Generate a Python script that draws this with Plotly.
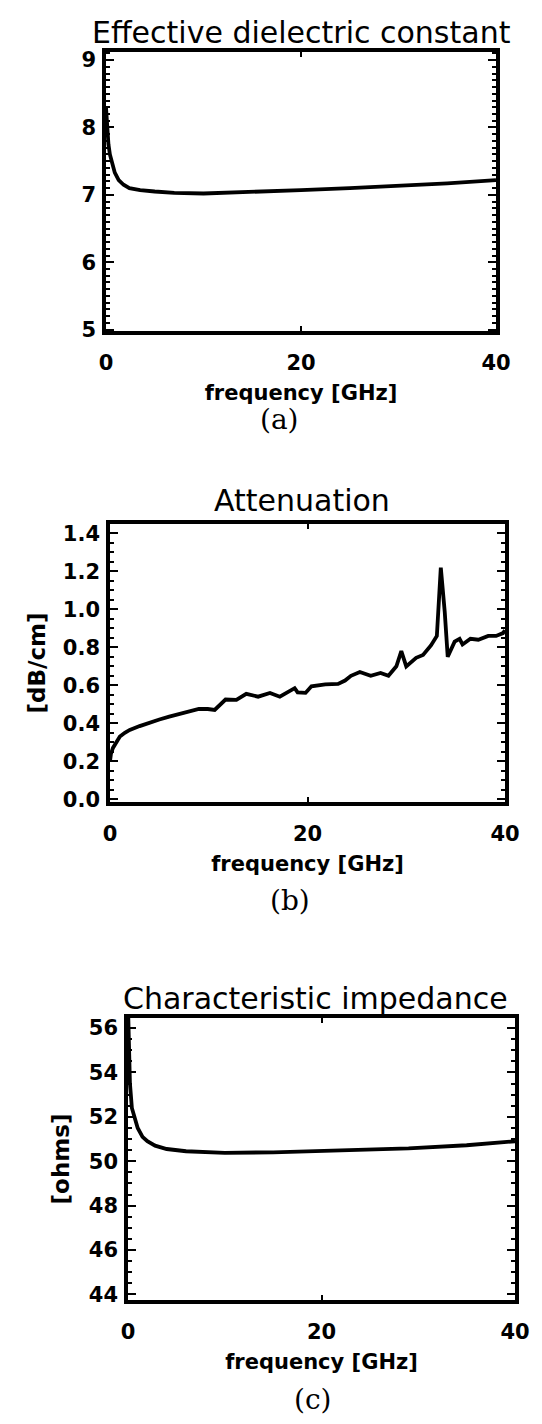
import plotly.graph_objects as go

# ---- data ----
freq_a = [0, 0.1, 0.25, 0.4, 0.6, 0.9, 1.3, 1.8, 2.4, 3.5, 5, 7, 10, 15, 20, 25, 30, 35, 40]
eps_eff = [8.3, 8.0, 7.75, 7.6, 7.48, 7.33, 7.22, 7.15, 7.1, 7.07, 7.05, 7.03, 7.02, 7.04,
           7.07, 7.1, 7.13, 7.17, 7.22]

freq_b = [0, 0.1, 0.3, 0.6, 1.0, 1.5, 2, 3, 4, 5, 6, 7, 7.9, 9, 9.9, 10.6, 11.7, 12.8,
          13.8, 15, 16.2, 17.2, 18.7, 19, 19.8, 20.4, 21.8, 23.1, 23.8, 24.4, 25.3, 26.4,
          27.4, 28.2, 29, 29.5, 30, 31, 31.7, 32.5, 33.1, 33.5, 33.9, 34.2, 34.9, 35.4,
          35.7, 36.5, 37.3, 38.3, 39.1, 39.8, 40]
atten = [0.2, 0.24, 0.27, 0.3, 0.33, 0.35, 0.365, 0.385, 0.405, 0.42, 0.435, 0.45, 0.462,
         0.475, 0.475, 0.47, 0.525, 0.523, 0.555, 0.54, 0.56, 0.54, 0.585, 0.563, 0.56,
         0.595, 0.605, 0.607, 0.625, 0.65, 0.67, 0.65, 0.665, 0.65, 0.7, 0.78, 0.7, 0.745,
         0.76, 0.81, 0.86, 1.22, 0.985, 0.75, 0.83, 0.845, 0.815, 0.845, 0.84, 0.86, 0.86,
         0.875, 0.89]

freq_c = [0, 0.1, 0.2, 0.4, 0.7, 1.0, 1.5, 2.0, 2.8, 4.0, 6.0, 8.0, 10, 15, 20, 25, 29, 35, 40]
z0 = [57, 55, 53.5, 52.4, 51.9, 51.5, 51.1, 50.9, 50.7, 50.55, 50.45, 50.4, 50.38, 50.4,
      50.45, 50.5, 50.58, 50.72, 50.9]

x_ticks = [0, 20, 40]
titles = ["Effective dielectric constant", "Attenuation", "Characteristic impedance"]
sub_labels = ["(a)", "(b)", "(c)"]
x_title = "frequency [GHz]"
y_titles = ["", "[dB/cm]", "[ohms]"]

W, H = 542, 1424

def px_x(p):
    return p / W

def px_y(p):
    return 1 - p / H

fig = go.Figure()
line = dict(color="black", width=3.8)
fig.add_trace(go.Scatter(x=freq_a, y=eps_eff, mode="lines", line=line, xaxis="x", yaxis="y",
                         showlegend=False))
fig.add_trace(go.Scatter(x=freq_b, y=atten, mode="lines", line=line, xaxis="x2", yaxis="y2",
                         showlegend=False))
fig.add_trace(go.Scatter(x=freq_c, y=z0, mode="lines", line=line, xaxis="x3", yaxis="y3",
                         showlegend=False))

tick_font = dict(family="DejaVu Sans", size=21, color="black", weight="bold")
title_font = dict(family="DejaVu Sans", size=21, color="black", weight="bold")
ytitle_font = dict(family="DejaVu Sans", size=23, color="black", weight="bold")

def xaxis(domain, anchor):
    return dict(domain=domain, anchor=anchor, range=[0, 40], tickvals=x_ticks,
                ticks="inside", ticklen=5, tickwidth=2, tickcolor="black",
                showline=True, linewidth=3.5, linecolor="black", mirror="ticks",
                showgrid=False, zeroline=False, tickfont=tick_font, ticklabelstandoff=10,
                automargin=False,
                title=dict(text=x_title, font=title_font, standoff=12))

def yaxis(domain, anchor, rng, dtick, minor, title, standoff):
    return dict(domain=domain, anchor=anchor, range=rng, dtick=dtick, tick0=0,
                ticks="inside", ticklen=8, tickwidth=2, tickcolor="black",
                minor=dict(ticks="inside", ticklen=4, tickwidth=1.5, dtick=minor,
                           tickcolor="black"),
                showline=True, linewidth=3.5, linecolor="black", mirror="ticks",
                showgrid=False, zeroline=False, tickfont=tick_font, ticklabelstandoff=2,
                automargin=False,
                title=dict(text=title, font=ytitle_font, standoff=standoff))

fig.update_layout(
    width=W, height=H, margin=dict(l=0, r=0, t=0, b=0),
    paper_bgcolor="white", plot_bgcolor="white", showlegend=False,
    xaxis=xaxis([px_x(98), px_x(488)], "y"),
    yaxis=yaxis([px_y(323), px_y(44)], "x", [4.98, 9.12], 1, 0.1, y_titles[0], 8),
    xaxis2=xaxis([px_x(102), px_x(497)], "y2"),
    yaxis2=dict(yaxis([px_y(794), px_y(516)], "x2", [-0.015, 1.45], 0.2, 0.05, y_titles[1], 12),
                tickformat=".1f"),
    xaxis3=xaxis([px_x(120), px_x(507)], "y3"),
    yaxis3=yaxis([px_y(1292), px_y(1010)], "x3", [43.75, 56.45], 2, 0.5, y_titles[2], 14),
)

title_pos = [(293, 24), (294, 492), (307, 990)]
for t, (x, y) in zip(titles, title_pos):
    fig.add_annotation(text=t, x=px_x(x), y=px_y(y), xref="paper", yref="paper",
                       showarrow=False, xanchor="center", yanchor="middle",
                       font=dict(family="DejaVu Sans", size=30, color="black"))

sub_pos = [(271, 411), (282, 892), (305, 1391)]
for t, (x, y) in zip(sub_labels, sub_pos):
    fig.add_annotation(text=t, x=px_x(x), y=px_y(y), xref="paper", yref="paper",
                       showarrow=False, xanchor="center", yanchor="middle",
                       font=dict(family="DejaVu Serif", size=28, color="black"))

fig.write_html("out.html")
